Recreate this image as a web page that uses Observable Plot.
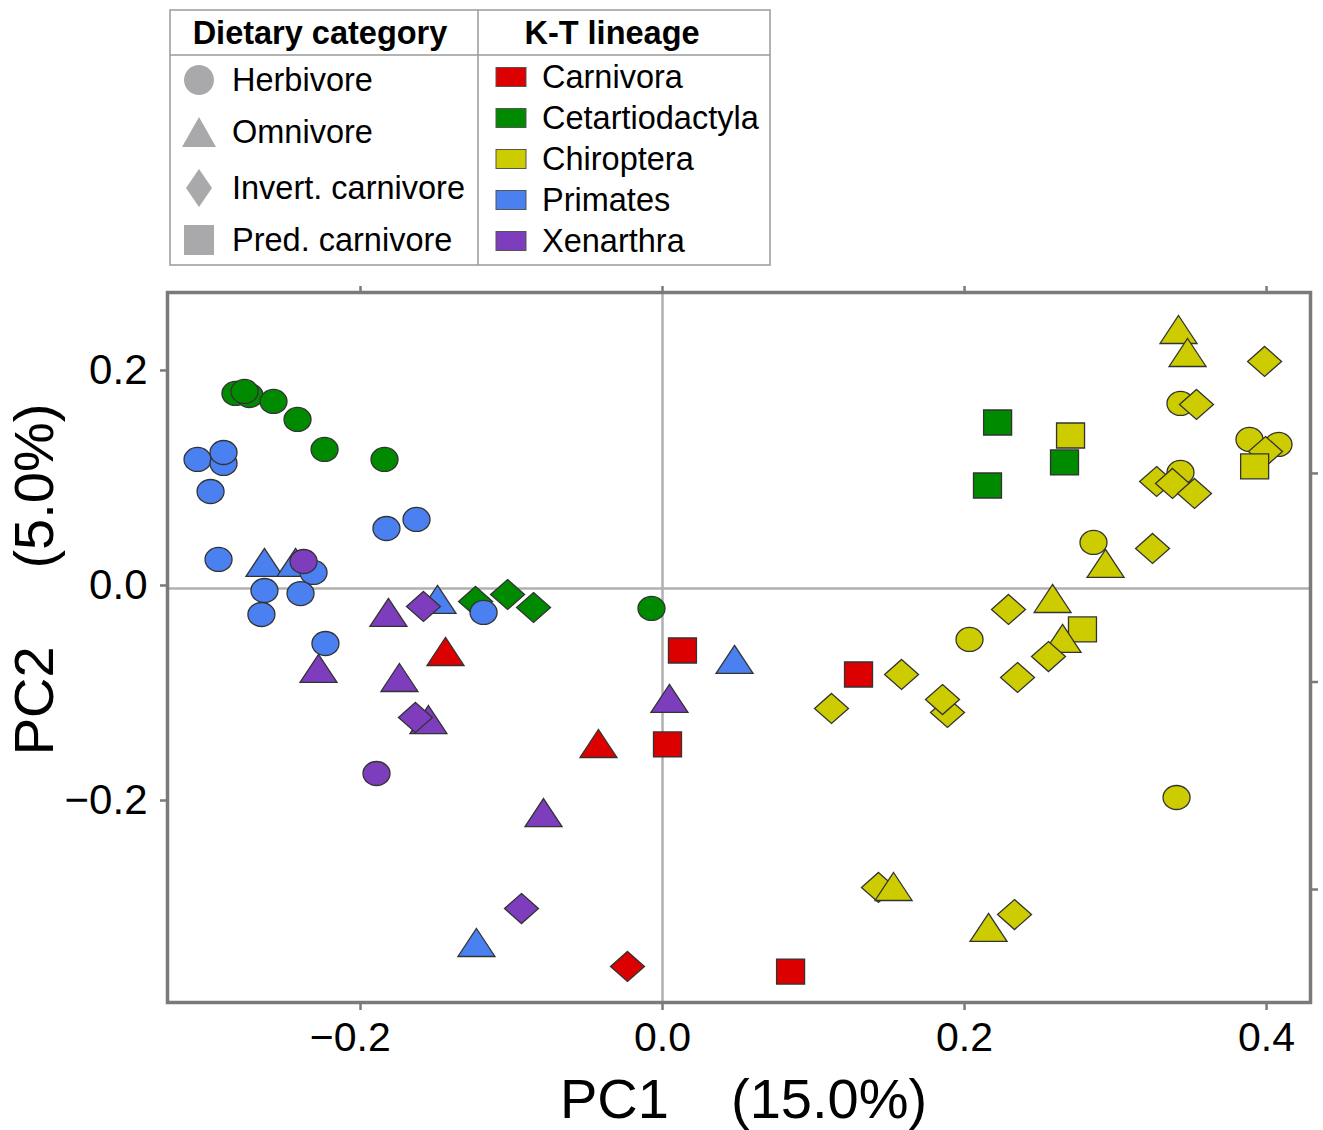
<!DOCTYPE html>
<html><head><meta charset="utf-8">
<script src="https://cdn.jsdelivr.net/npm/d3@7"></script>
<script src="https://cdn.jsdelivr.net/npm/@observablehq/plot@0.6"></script>
<style>
body{margin:0;background:#fff;font-family:"Liberation Sans",Arial,Helvetica,sans-serif;}
svg{display:block}
</style></head><body>
<div id="chart"></div>
<script>
// ---------- categories ----------
const dietCodes = ["H", "O", "I", "P"];
const dietLabels = ["Herbivore", "Omnivore", "Invert. carnivore", "Pred. carnivore"];
const lineages = ["Carnivora", "Cetartiodactyla", "Chiroptera", "Primates", "Xenarthra"];
const lineageColors = ["#dc0000", "#008a00", "#cccc00", "#4b80f0", "#7e3dbd"];

// ---------- data: [diet, PC1, PC2] per lineage ----------
const cetartiodactyla = [
  ["H", -0.2828, 0.1814], ["H", -0.2735, 0.1795], ["H", -0.2768, 0.1833],
  ["H", -0.2576, 0.1740], ["H", -0.2417, 0.1572], ["H", -0.2238, 0.1293],
  ["H", -0.1841, 0.1200], ["H", -0.0073, -0.0186],
  ["I", -0.1238, -0.0121], ["I", -0.1026, -0.0056], ["I", -0.0854, -0.0177],
  ["P", 0.2219, 0.1544], ["P", 0.2662, 0.1172], ["P", 0.2152, 0.0958]
];
const primates = [
  ["H", -0.3079, 0.1200], ["H", -0.2907, 0.1163], ["H", -0.2907, 0.1265],
  ["H", -0.2993, 0.0902], ["H", -0.2940, 0.0270],
  ["O", -0.2636, 0.0242], ["O", -0.2430, 0.0242],
  ["H", -0.2311, 0.0149], ["H", -0.2636, -0.0019], ["H", -0.2397, -0.0047],
  ["H", -0.2656, -0.0242], ["H", -0.1828, 0.0558], ["H", -0.1629, 0.0642],
  ["H", -0.1185, -0.0223], ["H", -0.2232, -0.0512],
  ["O", -0.1490, -0.0102], ["O", -0.1232, -0.3293], ["O", 0.0477, -0.0660]
];
const xenarthra = [
  ["H", -0.2377, 0.0251], ["H", -0.1894, -0.1721],
  ["O", -0.1815, -0.0223], ["O", -0.2278, -0.0744], ["O", -0.1742, -0.0828],
  ["O", -0.1550, -0.1219], ["O", -0.0788, -0.2084], ["O", 0.0046, -0.1023],
  ["I", -0.1583, -0.0167], ["I", -0.1636, -0.1200], ["I", -0.0934, -0.2977]
];
const carnivora = [
  ["O", -0.1437, -0.0586], ["O", -0.0424, -0.1442],
  ["P", 0.0132, -0.0577], ["P", 0.0033, -0.1451], ["I", -0.0232, -0.3516],
  ["P", 0.0848, -0.3563], ["P", 0.1298, -0.0800]
];
const chiroptera = [
  ["O", 0.3417, 0.2409], ["O", 0.3477, 0.2195], ["I", 0.3987, 0.2112],
  ["H", 0.3430, 0.1721], ["I", 0.3536, 0.1712], ["P", 0.2702, 0.1423],
  ["H", 0.3887, 0.1386], ["H", 0.4079, 0.1340], ["I", 0.3993, 0.1274],
  ["P", 0.3921, 0.1135], ["H", 0.3430, 0.1079], ["I", 0.3272, 0.0995],
  ["I", 0.3377, 0.0977], ["I", 0.3523, 0.0884], ["H", 0.2854, 0.0428],
  ["O", 0.2934, 0.0233], ["I", 0.3245, 0.0372], ["O", 0.2583, -0.0093],
  ["I", 0.2291, -0.0195], ["P", 0.2781, -0.0381], ["O", 0.2649, -0.0465],
  ["I", 0.2556, -0.0633], ["H", 0.2033, -0.0474], ["I", 0.1583, -0.0800],
  ["I", 0.2351, -0.0828], ["I", 0.1119, -0.1116], ["I", 0.1887, -0.1153],
  ["I", 0.1854, -0.1033], ["H", 0.3404, -0.1944], ["I", 0.1430, -0.2781],
  ["O", 0.1530, -0.2772], ["O", 0.2159, -0.3153], ["I", 0.2331, -0.3033]
];

// ---------- axis ticks ----------
const xTicks = [-0.2, 0.0, 0.2, 0.4];
const yTicks = [-0.2, 0.0, 0.2];
const rightTicks = [0.107, -0.087, -0.280];   // secondary (loading) axis ticks, unlabeled
const xTitle = "PC1\u00a0\u00a0\u00a0\u00a0(15.0%)";
const yTitle = "PC2\u00a0\u00a0\u00a0\u00a0\u00a0(5.0%)";

// ---------- table built from arrays ----------
const groups = [
  ["Cetartiodactyla", cetartiodactyla], ["Primates", primates], ["Xenarthra", xenarthra],
  ["Carnivora", carnivora], ["Chiroptera", chiroptera]
];
const points = groups.flatMap(([lin, arr]) => arr.map(([diet, pc1, pc2]) => ({lineage: lin, diet, pc1, pc2})));

// ---------- custom symbols ----------
function ellipseSym(rx, ry) {
  const k = 0.5523;
  return {draw(c) {
    c.moveTo(rx, 0);
    c.bezierCurveTo(rx, k * ry, k * rx, ry, 0, ry);
    c.bezierCurveTo(-k * rx, ry, -rx, k * ry, -rx, 0);
    c.bezierCurveTo(-rx, -k * ry, -k * rx, -ry, 0, -ry);
    c.bezierCurveTo(k * rx, -ry, rx, -k * ry, rx, 0);
    c.closePath();
  }};
}
function triSym(w, h) {
  return {draw(c) { c.moveTo(0, -h / 2); c.lineTo(w / 2, h / 2); c.lineTo(-w / 2, h / 2); c.closePath(); }};
}
function diaSym(w, h) {
  return {draw(c) { c.moveTo(0, -h / 2); c.lineTo(w / 2, 0); c.lineTo(0, h / 2); c.lineTo(-w / 2, 0); c.closePath(); }};
}
function sqSym(w, h) {
  return {draw(c) { c.rect(-w / 2, -h / 2, w, h); }};
}
const plotSymbols = [ellipseSym(13.5, 12), triSym(37, 28), diaSym(34, 30), sqSym(28, 25)];
const legendSymbols = [ellipseSym(15, 15), triSym(34, 30), diaSym(26, 38), sqSym(30, 30)];

// ---------- legend (table) ----------
const FONT = "'Liberation Sans', Arial, Helvetica, sans-serif";
const LFS = 32.5;
const leg = d3.create("svg").attr("width", 1323).attr("height", 270)
  .attr("font-family", FONT);
const lineC = "#9a9a9a";
leg.append("rect").attr("x", 170).attr("y", 10).attr("width", 600).attr("height", 255)
  .attr("fill", "none").attr("stroke", lineC).attr("stroke-width", 1.5);
leg.append("line").attr("x1", 478).attr("x2", 478).attr("y1", 10).attr("y2", 265)
  .attr("stroke", lineC).attr("stroke-width", 1.5);
leg.append("line").attr("x1", 170).attr("x2", 770).attr("y1", 55).attr("y2", 55)
  .attr("stroke", lineC).attr("stroke-width", 1.5);
leg.append("text").attr("x", 320).attr("y", 33).attr("dy", "0.35em").attr("text-anchor", "middle")
  .attr("font-size", LFS).attr("font-weight", "bold").text("Dietary category");
leg.append("text").attr("x", 612).attr("y", 33).attr("dy", "0.35em").attr("text-anchor", "middle")
  .attr("font-size", LFS).attr("font-weight", "bold").text("K-T lineage");
const dietRowY = [80, 132, 188, 240];
dietLabels.forEach((lab, i) => {
  leg.append("path").attr("transform", `translate(199,${dietRowY[i]})`)
    .attr("d", d3.symbol(legendSymbols[i])()).attr("fill", "#a9a9ab");
  leg.append("text").attr("x", 232).attr("y", dietRowY[i]).attr("dy", "0.35em")
    .attr("font-size", LFS).text(lab);
});
const linRowY = [77, 118, 159, 200, 241];
lineages.forEach((lab, i) => {
  leg.append("rect").attr("x", 496).attr("y", linRowY[i] - 9.5).attr("width", 30).attr("height", 19)
    .attr("fill", lineageColors[i]).attr("stroke", "#555").attr("stroke-width", 1);
  leg.append("text").attr("x", 542).attr("y", linRowY[i]).attr("dy", "0.35em")
    .attr("font-size", LFS).text(lab);
});
document.getElementById("chart").append(leg.node());

// ---------- plot ----------
const axisGray = "#7a7a7a";
const fmt = d3.format(".1f");
const chart = Plot.plot({
  width: 1323,
  height: 860,
  marginLeft: 167,
  marginRight: 13,
  marginTop: 22,
  marginBottom: 128,
  style: {fontFamily: FONT, color: "black", background: "white"},
  x: {domain: [-0.3278, 0.4291]},
  y: {domain: [-0.3851, 0.2753]},
  symbol: {domain: dietCodes, range: plotSymbols},
  color: {domain: lineages, range: lineageColors},
  marks: [
    Plot.ruleX([0], {stroke: "#b0b0b0", strokeWidth: 2.5}),
    Plot.ruleY([0], {stroke: "#b0b0b0", strokeWidth: 2.5}),
    Plot.dot(points, {x: "pc1", y: "pc2", symbol: "diet", fill: "lineage",
      stroke: "#333", strokeWidth: 1.3}),
    Plot.frame({stroke: axisGray, strokeWidth: 3.5}),
    Plot.axisX({anchor: "bottom", ticks: xTicks, tickSize: 8, tickPadding: 11, fontSize: 41,
      stroke: axisGray, strokeWidth: 2.5, fill: "black", label: null,
      tickFormat: d => d < 0 ? fmt(d) + "\u2002" : fmt(d)}),
    Plot.axisX({anchor: "top", ticks: xTicks, tickSize: 7, stroke: axisGray, strokeWidth: 2.5,
      label: null, tickFormat: () => ""}),
    Plot.axisY({anchor: "left", ticks: yTicks, tickSize: 7, tickPadding: 13, fontSize: 42, dy: -3,
      stroke: axisGray, strokeWidth: 2.5, fill: "black", label: null, tickFormat: fmt}),
    Plot.axisY({anchor: "right", ticks: rightTicks, tickSize: 7, stroke: axisGray, strokeWidth: 2.5,
      label: null, tickFormat: () => ""}),
    Plot.text([xTitle], {text: d => d, frameAnchor: "bottom", textAnchor: "middle", dx: 4.5, dy: 98,
      fontSize: 56, lineAnchor: "middle", fill: "black"}),
    Plot.text([yTitle], {text: d => d, frameAnchor: "left", textAnchor: "middle", rotate: -90,
      dx: -132, dy: -68, fontSize: 56, lineAnchor: "middle", fill: "black"})
  ]
});
document.getElementById("chart").append(chart);
</script>
</body></html>
